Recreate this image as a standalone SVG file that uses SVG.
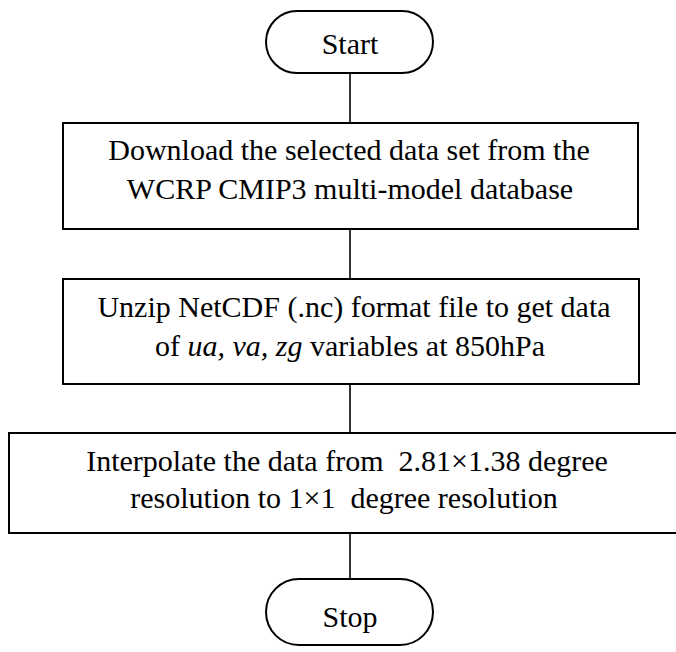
<svg xmlns="http://www.w3.org/2000/svg" width="676" height="652" viewBox="0 0 676 652">
<style>
.s{fill:#fff;stroke:#000;stroke-width:2}
.t{font-size:30px;fill:#000;text-anchor:middle;white-space:pre}
.c{stroke:#000;stroke-width:1.6;fill:none}
</style>
<rect width="676" height="652" fill="#fff"/>
<g id="connectors">
<line class="c" x1="350" y1="73" x2="350" y2="123"/>
<line class="c" x1="350" y1="229" x2="350" y2="279"/>
<line class="c" x1="350" y1="384" x2="350" y2="433"/>
<line class="c" x1="350" y1="533" x2="350" y2="579"/>
</g>
<g id="start">
<rect class="s" x="266" y="11" width="167" height="62" rx="31" ry="31"/>
<text class="t" x="350" y="54" font-family="'Liberation Serif'">Start</text>
</g>
<g id="download">
<rect class="s" x="63" y="123" width="575" height="106"/>
<text class="t" x="349" y="160" font-family="'Liberation Serif'">Download the selected data set from the</text>
<text class="t" x="350" y="199" font-family="'Liberation Serif'">WCRP CMIP3 multi-model database</text>
</g>
<g id="unzip">
<rect class="s" x="63" y="279" width="576" height="105"/>
<text class="t" x="354" y="317" font-family="'Liberation Serif'">Unzip NetCDF (.nc) format file to get data</text>
<text class="t" x="350" y="356" font-family="'Liberation Serif'">of <tspan font-style="italic">ua, va, zg</tspan> variables at 850hPa</text>
</g>
<g id="interpolate">
<rect class="s" x="9" y="433" width="682" height="100"/>
<text class="t" x="347" y="471" font-family="'Liberation Serif'">Interpolate the data from  2.81×1.38 degree</text>
<text class="t" x="344" y="508" font-family="'Liberation Serif'">resolution to 1×1  degree resolution</text>
</g>
<g id="stop">
<rect class="s" x="266" y="579" width="167" height="66" rx="33" ry="33"/>
<text class="t" x="350" y="627" font-family="'Liberation Serif'">Stop</text>
</g>
</svg>
